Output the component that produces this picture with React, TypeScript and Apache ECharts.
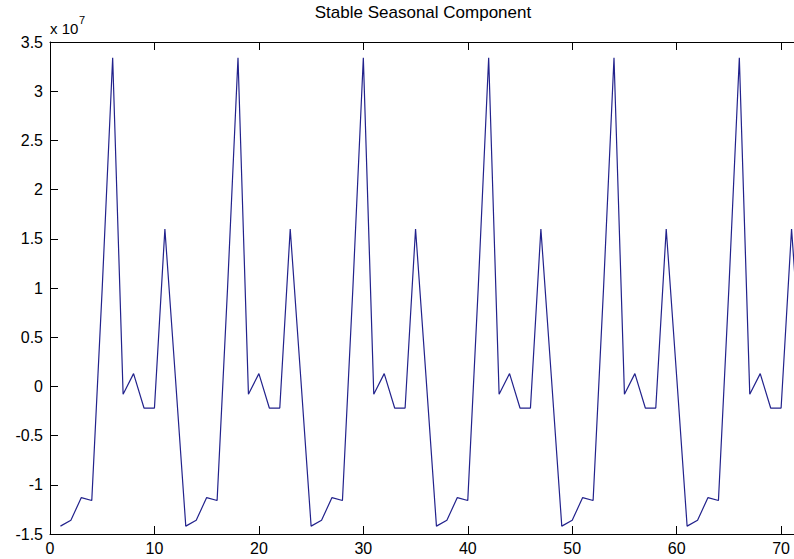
import React, { useEffect, useRef } from "react";
import * as echarts from "echarts";

const TITLE = "Stable Seasonal Component";
const SCALE_EXP = 7;
const SCALE = Math.pow(10, SCALE_EXP);

// Stable seasonal component (raw units), observations 1..72
const seasonalValues: number[] = [
  -14200000, -13600000, -11300000, -11600000, 10000000, 33400000, -800000, 1300000, -2200000, -2200000, 16000000, 1000000,
  -14200000, -13600000, -11300000, -11600000, 10000000, 33400000, -800000, 1300000, -2200000, -2200000, 16000000, 1000000,
  -14200000, -13600000, -11300000, -11600000, 10000000, 33400000, -800000, 1300000, -2200000, -2200000, 16000000, 1000000,
  -14200000, -13600000, -11300000, -11600000, 10000000, 33400000, -800000, 1300000, -2200000, -2200000, 16000000, 1000000,
  -14200000, -13600000, -11300000, -11600000, 10000000, 33400000, -800000, 1300000, -2200000, -2200000, 16000000, 1000000,
  -14200000, -13600000, -11300000, -11600000, 10000000, 33400000, -800000, 1300000, -2200000, -2200000, 16000000, 1000000,
];
const observations: number[] = seasonalValues.map((_, i) => i + 1);

const X_MIN = 0;
const X_MAX = 72;
const X_STEP = 10;
const Y_MIN = -1.5 * SCALE;
const Y_MAX = 3.5 * SCALE;
const Y_STEP = 0.5 * SCALE;

const FONT = "'Liberation Sans', Arial, sans-serif";

export default function App() {
  const ref = useRef<HTMLDivElement>(null);
  useEffect(() => {
    if (!ref.current) return;
    const chart = echarts.init(ref.current, undefined, { renderer: "svg" });
    const axisLine = { show: true, onZero: false, lineStyle: { color: "#000", width: 1 } };
    const tick = { show: true, inside: true, length: 8, lineStyle: { color: "#000" } };
    const fmtY = (v: number) => {
      const s = Math.round((v / SCALE) * 10) / 10;
      return String(s);
    };
    chart.setOption({
      animation: false,
      backgroundColor: "#fff",
      textStyle: { fontFamily: FONT },
      grid: { left: 50, top: 42, width: 752, height: 492, containLabel: false },
      xAxis: [
        {
          type: "value",
          position: "bottom",
          min: X_MIN,
          max: X_MAX,
          interval: X_STEP,
          axisLine,
          axisTick: tick,
          axisLabel: { color: "#000", fontSize: 16, fontFamily: FONT, margin: 6, showMaxLabel: false },
          splitLine: { show: false },
        },
        {
          type: "value",
          position: "top",
          min: X_MIN,
          max: X_MAX,
          interval: X_STEP,
          axisLine,
          axisTick: tick,
          axisLabel: { show: false },
          splitLine: { show: false },
        },
      ],
      yAxis: [
        {
          type: "value",
          position: "left",
          min: Y_MIN,
          max: Y_MAX,
          interval: Y_STEP,
          axisLine,
          axisTick: tick,
          axisLabel: { color: "#000", fontSize: 16, fontFamily: FONT, margin: 7, formatter: fmtY },
          splitLine: { show: false },
        },
        {
          type: "value",
          position: "right",
          min: Y_MIN,
          max: Y_MAX,
          interval: Y_STEP,
          axisLine,
          axisTick: tick,
          axisLabel: { show: false },
          splitLine: { show: false },
        },
      ],
      graphic: [
        {
          type: "text",
          x: 423,
          y: 12,
          style: {
            text: TITLE,
            fontSize: 17,
            fontFamily: FONT,
            fill: "#000",
            textAlign: "center",
            textVerticalAlign: "middle",
          },
        },
        {
          type: "text",
          x: 50,
          y: 28,
          style: {
            text: "x 10",
            fontSize: 15,
            fontFamily: FONT,
            fill: "#000",
            textAlign: "left",
            textVerticalAlign: "middle",
          },
        },
        {
          type: "text",
          x: 79,
          y: 20,
          style: {
            text: String(SCALE_EXP),
            fontSize: 11,
            fontFamily: FONT,
            fill: "#000",
            textAlign: "left",
            textVerticalAlign: "middle",
          },
        },
      ],
      series: [
        {
          type: "line",
          xAxisIndex: 0,
          yAxisIndex: 0,
          data: observations.map((x, i) => [x, seasonalValues[i]]),
          showSymbol: false,
          symbol: "none",
          lineStyle: { color: "#22228c", width: 1.2 },
          silent: true,
        },
      ],
    });
    return () => chart.dispose();
  }, []);
  return (
    <div style={{ position: "fixed", left: 0, top: 0, width: 794, height: 559, overflow: "hidden", background: "#fff" }}>
      <div ref={ref} style={{ width: 830, height: 559 }} />
    </div>
  );
}
